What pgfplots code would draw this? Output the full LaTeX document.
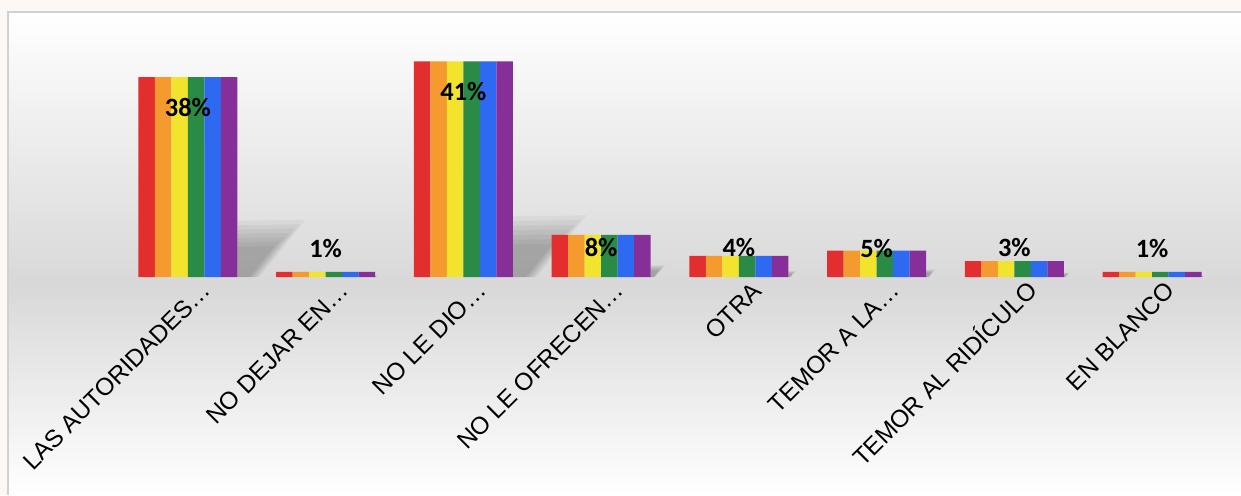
\documentclass[border=0pt]{standalone}
\usepackage{fontspec}
\setmainfont{Liberation Sans}
\newfontfamily\calfont{Carlito}
\usepackage{pgfplots}
\usepackage{pgfplotstable}
\pgfplotsset{compat=1.18}
\definecolor{cR}{HTML}{E22E2F}
\definecolor{cO}{HTML}{F59A2E}
\definecolor{cY}{HTML}{F2E42C}
\definecolor{cG}{HTML}{2A8B47}
\definecolor{cB}{HTML}{2E6AF1}
\definecolor{cP}{HTML}{862F98}
\definecolor{outerbg}{HTML}{FDF8F4}
\definecolor{bggray}{HTML}{D8D8D8}
\definecolor{bordergray}{HTML}{D0D0D0}
\pgfplotstableread{
x v ly
0 38 32.2
1 1 5.5
2 41 35.3
3 8 5.7
4 4 5.7
5 5 5.4
6 3 5.6
7 1 5.4
}\data
\begin{document}
\begin{tikzpicture}
\useasboundingbox (-59.5pt,-109pt) rectangle (561pt,138.5pt);
\fill[outerbg] (-59.5pt,-109pt) rectangle (561pt,138.5pt);
\shade[top color=white, bottom color=bggray] (-55.5pt,-4pt) rectangle (561pt,132.5pt);
\shade[top color=bggray, bottom color=white] (-55.5pt,-109pt) rectangle (561pt,-4pt);
\draw[bordergray, line width=0.6pt] (-55.5pt,-109pt) -- (-55.5pt,132.5pt) -- (561pt,132.5pt);
\begin{axis}[
  scale only axis, width=551pt, height=131.5pt,
  xmin=-0.5, xmax=7.5, ymin=0, ymax=50,
  axis line style={draw=none}, major tick length=0pt,
  ytick=\empty, xtick={0,...,7},
  xticklabels={LAS AUTORIDADES…, NO DEJAR EN…, NO LE DIO…, NO LE OFRECEN…, OTRA, TEMOR A LA…, TEMOR AL RIDÍCULO, EN BLANCO},
  xticklabel style={inner sep=0pt, anchor=base east, xshift=12.2pt, yshift=-7.6pt, rotate=45, font=\fontsize{12.2}{14}\selectfont},
  clip=false,
]
% perspective shadows (soft, layered)
\foreach \i/\v in {0/38, 1/1, 2/41, 3/8, 4/4, 5/5, 6/3, 7/1} {
  \foreach \s in {1.04,0.96,0.88,0.80,0.72,0.64,0.56} {
    \edef\tmp{\noexpand\fill[black, opacity=0.038]
      (axis cs:\i+0.36,0) -- (axis cs:\i+0.36,0.27*\s*\v) -- (axis cs:\i+0.36+0.0125*\s*\v,0.275*\s*\v) -- (axis cs:\i+0.36+0.004*\s*\v,0) -- cycle;}
    \tmp
  }
}
\addplot[ybar, bar width=8.25pt, bar shift=-20.625pt, fill=cR, draw=none] table[x=x, y=v]{\data};
\addplot[ybar, bar width=8.25pt, bar shift=-12.375pt, fill=cO, draw=none] table[x=x, y=v]{\data};
\addplot[ybar, bar width=8.25pt, bar shift=-4.125pt, fill=cY, draw=none] table[x=x, y=v]{\data};
\addplot[ybar, bar width=8.25pt, bar shift=4.125pt, fill=cG, draw=none] table[x=x, y=v]{\data};
\addplot[ybar, bar width=8.25pt, bar shift=12.375pt, fill=cB, draw=none] table[x=x, y=v]{\data};
\addplot[ybar, bar width=8.25pt, bar shift=20.625pt, fill=cP, draw=none] table[x=x, y=v]{\data};
\addplot[draw=none, mark=none, point meta=explicit symbolic,
  nodes near coords={\pgfplotspointmeta\%},
  every node near coord/.append style={anchor=center, inner sep=0pt, font=\calfont\bfseries\fontsize{13.2}{14}\selectfont, text=black}]
  table[x=x, y=ly, meta=v]{\data};
\end{axis}
\end{tikzpicture}
\end{document}
